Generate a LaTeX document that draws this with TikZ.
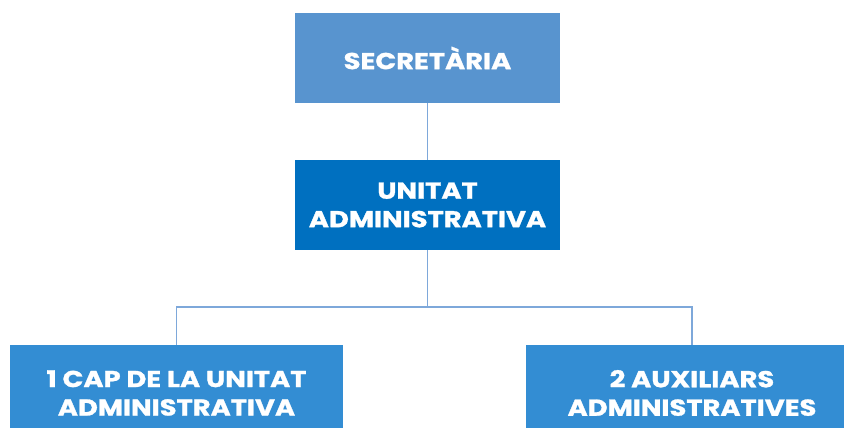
\documentclass[tikz,border=0pt]{standalone}
\usepackage{fontspec}
\newfontfamily\boxfont{Poppins}[BoldFont=* Bold, BoldFeatures={FakeStretch=1.19, FakeBold=1.2}]
\definecolor{topblue}{HTML}{5894CF}
\definecolor{midblue}{HTML}{0070C0}
\definecolor{botblue}{HTML}{338DD3}
\definecolor{linkblue}{HTML}{7EA8DA}
\begin{document}
\begin{tikzpicture}[x=1pt,y=-1pt,
  orgbox/.style={rectangle, inner sep=0pt, text=white, align=center,
    font=\boxfont\bfseries\fontsize{23}{28.5}\selectfont},
  link/.style={draw=linkblue, line width=1.3pt}]
\useasboundingbox (0,0) rectangle (844,428);
\begin{scope}
\clip (0,0) rectangle (844,428);
\node[orgbox, fill=topblue, minimum width=265pt, minimum height=90pt] (sec) at (427.5,58) {SECRETÀRIA};
\node[orgbox, fill=midblue, minimum width=265pt, minimum height=90pt] (ua) at (427.5,205) {UNITAT\\ADMINISTRATIVA};
\node[orgbox, fill=botblue, minimum width=333pt, minimum height=96pt] (cap) at (176.5,393) {1 CAP DE LA UNITAT\\ADMINISTRATIVA};
\node[orgbox, fill=botblue, minimum width=332pt, minimum height=96pt] (aux) at (692,393) {2 AUXILIARS\\ADMINISTRATIVES};
\coordinate (split) at (427.5,307);
\draw[link] (sec.south) -- (ua.north);
\draw[link] (ua.south) -- (split);
\draw[link] (cap.north) |- (split) -| (aux.north);
\end{scope}
\end{tikzpicture}
\end{document}
